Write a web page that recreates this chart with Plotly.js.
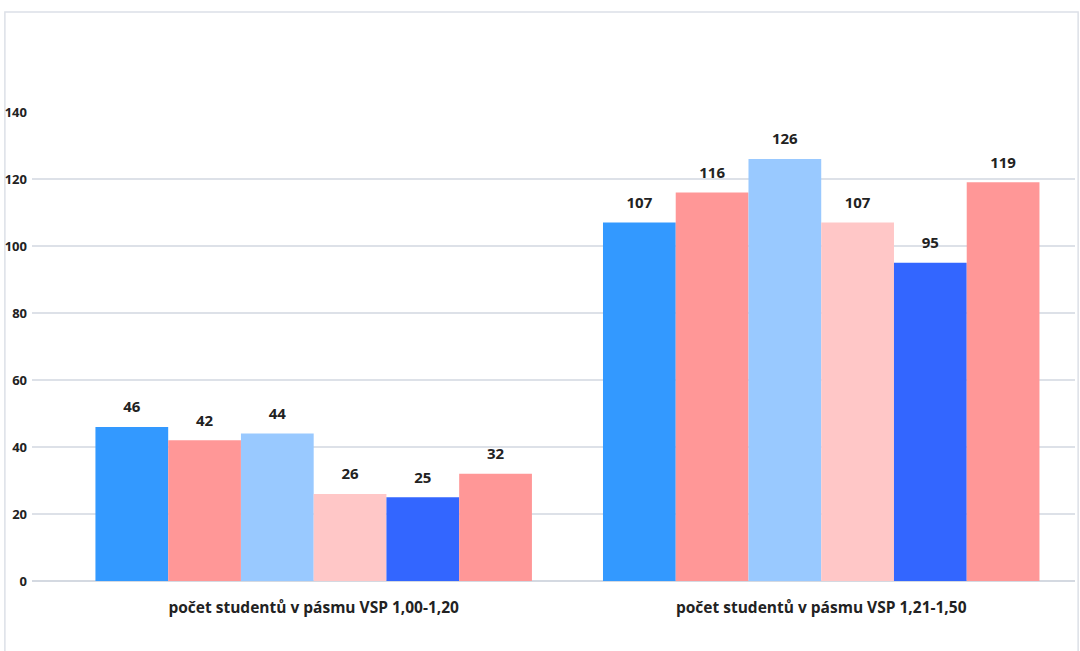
<!DOCTYPE html>
<html>
<head>
<meta charset="utf-8">
<script src="https://cdn.plot.ly/plotly-3.0.1.min.js"></script>
<style>
html,body{margin:0;padding:0;background:#fff;}
#chart{width:1080px;height:651px;}
</style>
</head>
<body>
<div id="chart"></div>
<script>
var categories = ["počet studentů v pásmu VSP 1,00-1,20", "počet studentů v pásmu VSP 1,21-1,50"];
var series1 = [46, 107];
var series2 = [42, 116];
var series3 = [44, 126];
var series4 = [26, 107];
var series5 = [25, 95];
var series6 = [32, 119];
var seriesNames = ["Série 1", "Série 2", "Série 3", "Série 4", "Série 5", "Série 6"];
var colors = ["#3399FF", "#FF9797", "#99C9FF", "#FFC7C7", "#3366FF", "#FF9797"];
var tickVals = [0, 20, 40, 60, 80, 100, 120, 140];

var allSeries = [series1, series2, series3, series4, series5, series6];
var traces = [];
allSeries.forEach(function (vals, i) {
  traces.push({
    type: "bar",
    name: seriesNames[i],
    x: categories,
    y: vals,
    offsetgroup: "g" + i,
    marker: {color: colors[i]},
    hoverinfo: "y",
    showlegend: false
  });
});
allSeries.forEach(function (vals, i) {
  traces.push({
    type: "scatter",
    mode: "markers+text",
    x: categories,
    y: vals,
    offsetgroup: "g" + i,
    text: vals.map(String),
    textposition: "top center",
    textfont: {family: "Open Sans, sans-serif", size: 15, color: "#222", weight: "bold"},
    marker: {size: 16, color: "rgba(0,0,0,0)"},
    hoverinfo: "skip",
    showlegend: false,
    cliponaxis: false
  });
});

var layout = {
  width: 1080,
  height: 651,
  margin: {l: 32, r: 5, t: 112, b: 70},
  paper_bgcolor: "#ffffff",
  plot_bgcolor: "#ffffff",
  barmode: "group",
  scattermode: "group",
  bargap: 0.14,
  bargroupgap: 0,
  showlegend: false,
  xaxis: {
    type: "category",
    range: [-0.555, 1.5],
    showgrid: false,
    showline: false,
    zeroline: false,
    ticks: "",
    ticklabelstandoff: 15,
    tickfont: {family: "Open Sans, sans-serif", size: 15.5, color: "#222", weight: "bold"},
    fixedrange: true
  },
  yaxis: {
    range: [0, 140],
    tickvals: tickVals,
    ticktext: tickVals.map(String),
    showgrid: true,
    gridcolor: "#dde1e8",
    gridwidth: 1.5,
    zeroline: true,
    zerolinecolor: "#d4d9e1",
    zerolinewidth: 1.5,
    showline: false,
    ticks: "",
    ticklabelstandoff: 4,
    tickfont: {family: "Open Sans, sans-serif", size: 13, color: "#222", weight: "bold"},
    fixedrange: true
  },
  shapes: [{
    type: "rect",
    xref: "paper", yref: "paper",
    x0: -0.026, x1: 1.003,
    y0: -0.17, y1: 1.213,
    line: {color: "#dce0e7", width: 1.5},
    fillcolor: "rgba(0,0,0,0)",
    layer: "below"
  }]
};

Plotly.newPlot("chart", traces, layout, {displayModeBar: false, staticPlot: true});
</script>
</body>
</html>
